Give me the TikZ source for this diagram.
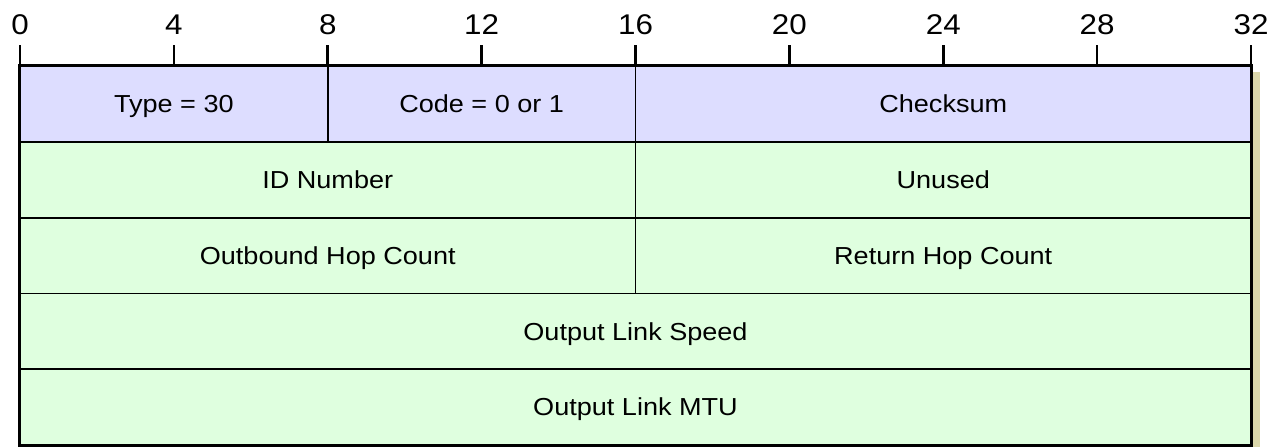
\documentclass[tikz,border=0pt]{standalone}
\usepackage{fontspec}
\setmainfont[FakeStretch=1.1]{Liberation Sans}
\definecolor{hdrfill}{HTML}{DDDDFF}
\definecolor{bodyfill}{HTML}{DFFFDF}
\definecolor{shadowc}{HTML}{DAD6AA}
\begin{document}
\begin{tikzpicture}[x=1pt,y=-1pt,
  field/.style={draw=black, line width=1.8pt, inner sep=0pt, minimum height=75.8pt,
    text height=17.6pt, text depth=0pt, font=\fontsize{24.6pt}{26pt}\selectfont},
  hdr/.style={field, fill=hdrfill},
  body/.style={field, fill=bodyfill},
  tick/.style={line width=2.6pt},
  bitlbl/.style={anchor=base, inner sep=0pt, font=\fontsize{28.5pt}{30pt}\selectfont}]
\useasboundingbox (0,0) rectangle (1277,447);
% shadow
\fill[shadowc] (1251,72) rectangle (1260,447);
% row 1
\node[hdr, minimum width=307.75pt] (type) at (173.875,103.9) {Type = 30};
\node[hdr, minimum width=307.75pt] (code) at (481.625,103.9) {Code = 0 or 1};
\node[hdr, minimum width=615.5pt] (checksum) at (943.25,103.9) {Checksum};
% row 2
\node[body, minimum width=615.5pt] (id) at (327.75,179.7) {ID Number};
\node[body, minimum width=615.5pt] (unused) at (943.25,179.7) {Unused};
% row 3
\node[body, minimum width=615.5pt] (outhop) at (327.75,255.5) {Outbound Hop Count};
\node[body, minimum width=615.5pt] (rethop) at (943.25,255.5) {Return Hop Count};
% row 4
\node[body, minimum width=1231pt] (speed) at (635.5,331.3) {Output Link Speed};
% row 5
\node[body, minimum width=1231pt] (mtu) at (635.5,407.1) {Output Link MTU};
% outer border
\draw[line width=3pt] (type.north west) rectangle (mtu.south east);
% ruler
\foreach \i in {0,4,...,32} {
  \coordinate (t\i) at ({20+\i*38.46875},66);
  \draw[tick] (t\i) -- ++(0,-21);
  \node[bitlbl] (l\i) at ({20+\i*38.46875},34) {\i};
}
\end{tikzpicture}
\end{document}
